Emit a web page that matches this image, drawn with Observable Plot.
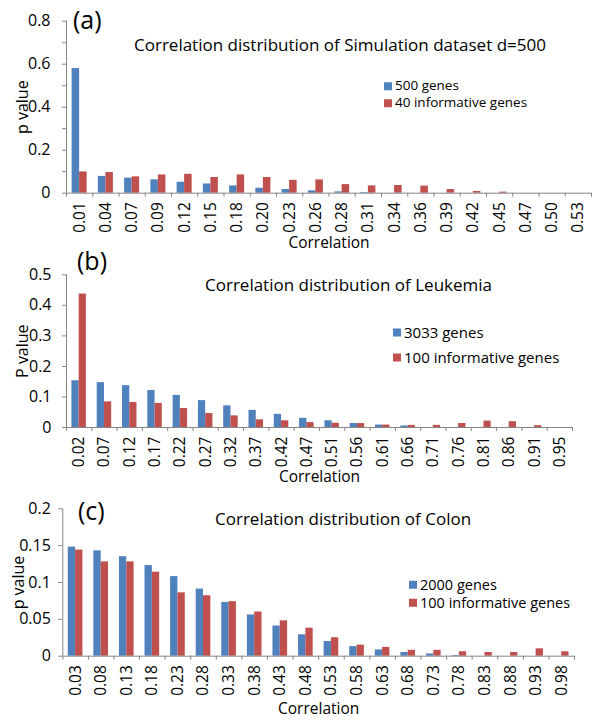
<!DOCTYPE html>
<html><head><meta charset="utf-8">
<script src="https://cdn.jsdelivr.net/npm/d3@7"></script>
<script src="https://cdn.jsdelivr.net/npm/@observablehq/plot@0.6"></script>
<style>
body{margin:0;background:#fff;font-family:"Open Sans",sans-serif;color:#000;}
#wrap{position:relative;width:600px;height:725px;overflow:hidden;}
.panel{position:absolute;left:0;width:600px;}
.ov{position:absolute;white-space:nowrap;line-height:1;transform:translateY(-50%);}
.tag{font-size:25px;}
.title{font-size:17px;}
.leg{display:flex;align-items:center;}
.sw{display:inline-block;width:8px;height:8px;margin-right:3px;}
</style></head><body>
<div id="wrap"></div>
<script>
// ---- data ----
const labelsA = ["0.01","0.04","0.07","0.09","0.12","0.15","0.18","0.20","0.23","0.26","0.28","0.31","0.34","0.36","0.39","0.42","0.45","0.47","0.50","0.53"];
const simAll  = [0.58,0.078,0.070,0.062,0.051,0.043,0.034,0.023,0.017,0.011,0.006,0.003,0,0,0,0,0,0,0,0];
const simInf  = [0.099,0.096,0.076,0.085,0.088,0.073,0.085,0.073,0.060,0.062,0.040,0.034,0.036,0.033,0.017,0.008,0.005,0,0,0];

const labelsB = ["0.02","0.07","0.12","0.17","0.22","0.27","0.32","0.37","0.42","0.47","0.51","0.56","0.61","0.66","0.71","0.76","0.81","0.86","0.91","0.95"];
const leuAll  = [0.153,0.147,0.137,0.121,0.105,0.088,0.071,0.056,0.043,0.030,0.022,0.013,0.008,0.005,0,0,0,0,0,0];
const leuInf  = [0.437,0.084,0.082,0.079,0.062,0.046,0.038,0.025,0.022,0.016,0.014,0.013,0.008,0.007,0.007,0.013,0.021,0.019,0.006,0];

const labelsC = ["0.03","0.08","0.13","0.18","0.23","0.28","0.33","0.38","0.43","0.48","0.53","0.58","0.63","0.68","0.73","0.78","0.83","0.88","0.93","0.98"];
const colAll  = [0.148,0.143,0.135,0.123,0.108,0.091,0.073,0.056,0.041,0.029,0.020,0.013,0.0085,0.005,0.003,0.001,0,0,0,0];
const colInf  = [0.144,0.128,0.128,0.114,0.086,0.082,0.074,0.060,0.048,0.038,0.025,0.015,0.012,0.008,0.008,0.006,0.005,0.005,0.010,0.006];

const BLUE = "#4F81BD", RED = "#C0504D", AXIS = "#868686";

const panels = [
  {tag:"(a)", title:"Correlation distribution of Simulation dataset d=500", ylabel:"p value",
   labels:labelsA, a:simAll, b:simInf, names:["500 genes","40 informative genes"],
   top:0, height:262, mt:20.7, mb:69.3, ml:66, mr:9, ymax:0.8, minor:0.1, major:0.2,
   tagPos:[73,19], titlePos:[134,44], legPos:[384,86,17], legFont:13.5, tickPad:12, xlo:55},
  {tag:"(b)", title:"Correlation distribution of Leukemia", ylabel:"P value",
   labels:labelsB, a:leuAll, b:leuInf, names:["3033 genes","100 informative genes"],
   top:250, height:246, mt:24.3, mb:69, ml:66, mr:28, ymax:0.5, minor:0.1, major:0.1,
   tagPos:[77,260], titlePos:[205,284], legPos:[393,332,25], legFont:15, tickPad:11, xlo:54},
  {tag:"(c)", title:"Correlation distribution of Colon", ylabel:"p value",
   labels:labelsC, a:colAll, b:colInf, names:["2000 genes","100 informative genes"],
   top:482, height:243, mt:26.3, mb:69.3, ml:62.3, mr:26, ymax:0.2, minor:0.05, major:0.05,
   tagPos:[78,510], titlePos:[215,518], legPos:[409,585,18], legFont:14.5, tickPad:8, xlo:58}
];

const fmt = d => String(+d.toFixed(3));
const wrap = document.getElementById("wrap");

for (const p of panels) {
  const n = p.labels.length;
  const rows = p.labels.flatMap((c, i) => [
    {i, s:0, series:p.names[0], v:p.a[i]},
    {i, s:1, series:p.names[1], v:p.b[i]}
  ]);
  const minorTicks = d3.range(0, Math.round(p.ymax / p.minor) + 1).map(k => +(k * p.minor).toFixed(3));
  const majorTicks = d3.range(0, Math.round(p.ymax / p.major) + 1).map(k => +(k * p.major).toFixed(3));
  const chart = Plot.plot({
    width: 600, height: p.height,
    marginTop: p.mt, marginBottom: p.mb, marginLeft: p.ml, marginRight: p.mr,
    style: {fontFamily: "'Open Sans', sans-serif", fontSize: "15px", color: "#000", background: "transparent", overflow: "visible"},
    x: {domain: [0, n]},
    y: {domain: [0, p.ymax]},
    color: {domain: p.names, range: [BLUE, RED]},
    marks: [
      Plot.rectY(rows, {
        x1: d => d.i + 0.214 + d.s * 0.286,
        x2: d => d.i + 0.214 + (d.s + 1) * 0.286,
        y1: 0, y2: "v", fill: "series"
      }),
      Plot.ruleX([0], {stroke: AXIS}),
      Plot.ruleY([0], {stroke: AXIS}),
      Plot.axisY({ticks: minorTicks, tickSize: 4, tickFormat: () => "", stroke: AXIS, label: null}),
      Plot.axisY({ticks: majorTicks, tickSize: 0, tickPadding: p.tickPad + 4, tickFormat: fmt, fontSize: 16,
                  label: p.ylabel, labelAnchor: "center", labelArrow: "none", labelOffset: 50}),
      Plot.axisX({ticks: d3.range(n + 1), tickSize: 4, tickFormat: () => "", stroke: AXIS, label: null}),
      Plot.axisX({ticks: d3.range(n).map(i => i + 0.5), tickSize: 0, tickPadding: 9, tickRotate: -90,
                  tickFormat: d => p.labels[Math.floor(d)], fontSize: 15.5,
                  label: "Correlation", labelAnchor: "center", labelArrow: "none", labelOffset: p.xlo})
    ]
  });
  const holder = document.createElement("div");
  holder.className = "panel";
  holder.style.top = p.top + "px";
  holder.appendChild(chart);
  wrap.appendChild(holder);

  const tag = document.createElement("div");
  tag.className = "ov tag"; tag.textContent = p.tag;
  tag.style.left = p.tagPos[0] + "px"; tag.style.top = p.tagPos[1] + "px";
  wrap.appendChild(tag);

  const title = document.createElement("div");
  title.className = "ov title"; title.textContent = p.title;
  title.style.left = p.titlePos[0] + "px"; title.style.top = p.titlePos[1] + "px";
  wrap.appendChild(title);

  p.names.forEach((name, k) => {
    const l = document.createElement("div");
    l.className = "ov leg";
    l.style.fontSize = p.legFont + "px";
    l.style.left = p.legPos[0] + "px";
    l.style.top = (p.legPos[1] + k * p.legPos[2]) + "px";
    const sw = document.createElement("span");
    sw.className = "sw"; sw.style.background = k === 0 ? BLUE : RED;
    l.appendChild(sw);
    l.appendChild(document.createTextNode(name));
    wrap.appendChild(l);
  });
}
</script>
</body></html>
